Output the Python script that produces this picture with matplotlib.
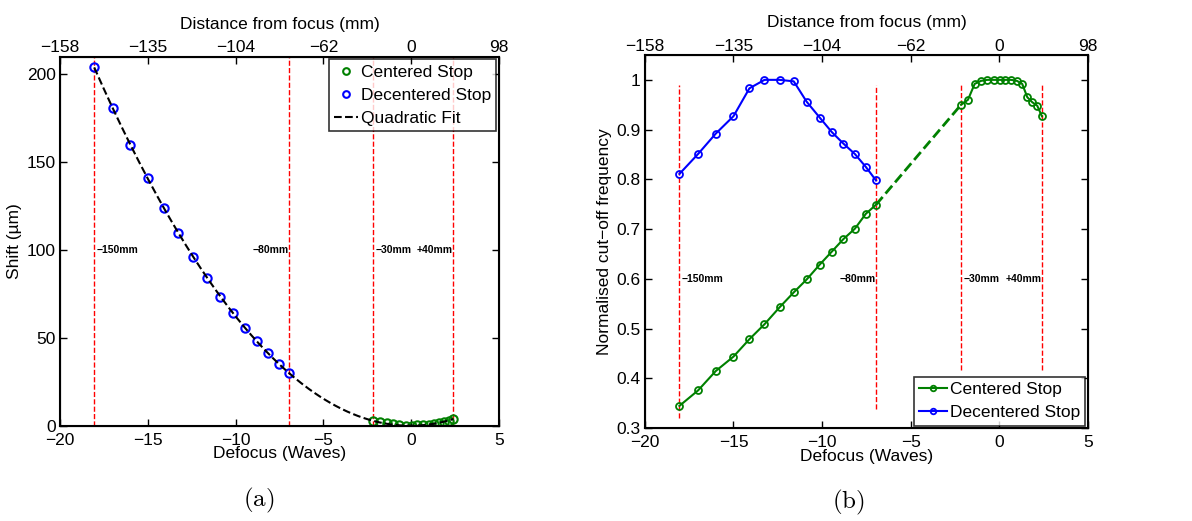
import numpy as np
import matplotlib.pyplot as plt

plt.rcParams['font.family'] = ['Liberation Sans', 'DejaVu Sans']
plt.rcParams['mathtext.fontset'] = 'cm'

# defocus (waves) of the measurement positions
dec_x = [-18.05, -17.0, -16.0, -15.0, -14.1, -13.25, -12.4, -11.6, -10.87,
         -10.13, -9.45, -8.8, -8.15, -7.53, -6.96]
cen_x = [-2.16, -1.77, -1.39, -1.03, -0.68, -0.32, 0.02, 0.34, 0.66,
         0.99, 1.29, 1.58, 1.86, 2.14, 2.4]

# (a) shift in um
dec_shift = [204, 181, 160, 141, 124, 109.5, 96, 84, 73.4, 64, 55.4, 48,
             41.2, 35.3, 29.8]
cen_shift = [2.6, 2.0, 1.3, 0.7, 0.3, 0.05, 0.0, 0.1, 0.3, 0.6, 1.0, 1.5,
             2.2, 2.9, 3.6]

# (b) normalised cut-off frequency
dec_freq = [0.811, 0.851, 0.892, 0.927, 0.983, 1.0, 1.0, 0.997, 0.956,
            0.924, 0.895, 0.872, 0.851, 0.825, 0.798]
cen_freq_far = [0.345, 0.376, 0.415, 0.444, 0.479, 0.509, 0.543, 0.573,
                0.599, 0.629, 0.655, 0.680, 0.701, 0.731, 0.749]
cen_freq_near = [0.950, 0.960, 0.992, 0.998, 1.0, 1.0, 1.0, 1.0, 1.0,
                 0.998, 0.992, 0.965, 0.955, 0.948, 0.927]

# reference distances
ref_x = [-18.05, -6.96, -2.16, 2.4]
ref_labels = ['\u2212150mm', '\u221280mm', '\u221230mm', '+40mm']
ref_ha = ['left', 'right', 'left', 'right']
ref_ymin_b = [0.32, 0.338, 0.417, 0.417]

xticks = [-20, -15, -10, -5, 0, 5]
top_labels = ['\u2212158', '\u2212135', '\u2212104', '\u221262', '0', '98']

green = (0, 0.5, 0)
fs = 12.5
small = dict(fontsize=7.5, fontweight='bold',
             family=['Liberation Sans Narrow', 'Liberation Sans'])

fig = plt.figure(figsize=(11.92, 5.21), dpi=100)
ax1 = fig.add_axes([0.0503, 0.183, 0.3683, 0.708])
ax2 = fig.add_axes([0.541, 0.178, 0.3717, 0.7165])


def style(ax, ylim, yticks):
    ax.set_xlim(-20, 5)
    ax.set_ylim(*ylim)
    ax.set_xticks(xticks)
    ax.set_yticks(yticks)
    ax.tick_params(direction='in', labelsize=fs, length=5, width=1,
                   right=True, pad=3)
    ax.tick_params(axis='x', pad=5)
    for s in ax.spines.values():
        s.set_linewidth(1.5)
    ax.set_xlabel('Defocus (Waves)', fontsize=fs, labelpad=-1)
    top = ax.twiny()
    top.set_xlim(-20, 5)
    top.set_xticks(xticks)
    top.set_xticklabels(top_labels)
    top.tick_params(direction='in', labelsize=fs, length=5, width=1, pad=1)
    top.set_xlabel('Distance from focus (mm)', fontsize=fs, labelpad=8)


def legend(ax, loc, hl):
    leg = ax.legend(loc=loc, fontsize=fs, frameon=True, fancybox=False,
                    edgecolor='k', handlelength=hl, handletextpad=0.15,
                    borderpad=0.3, labelspacing=0.45, borderaxespad=0.15,
                    markerscale=0.8)
    leg.get_frame().set_linewidth(1.2)


def ref_text(ax, y):
    for x, t, ha in zip(ref_x, ref_labels, ref_ha):
        ax.annotate(t, (x, y), xytext=(1.5 if ha == 'left' else -0.5, 0),
                    textcoords='offset points', ha=ha, va='center', **small)


# ---- (a)
style(ax1, (0, 210), [0, 50, 100, 150, 200])
ax1.set_yticklabels(['0', '50', '100', '150', '200'])
ax1.set_ylabel('Shift (\u00b5m)', fontsize=fs, labelpad=3)
for x in ref_x:
    ax1.axvline(x, color='r', ls='--', lw=1)
ref_text(ax1, 100)

all_x = np.array(dec_x + cen_x)
all_y = np.array(dec_shift + cen_shift)
coef = np.polyfit(all_x, all_y, 2)
xf = np.linspace(min(dec_x), max(cen_x), 200)
ax1.plot(cen_x, cen_shift, 'o', mfc='none', mec=green, mew=1.5, ms=6,
         label='Centered Stop')
ax1.plot(dec_x, dec_shift, 'o', mfc='none', mec='b', mew=1.5, ms=6,
         label='Decentered Stop')
ax1.plot(xf, np.polyval(coef, xf), 'k--', lw=1.5, label='Quadratic Fit')
legend(ax1, 'upper right', 1.4)

# ---- (b)
style(ax2, (0.3, 1.05), [0.3, 0.4, 0.5, 0.6, 0.7, 0.8, 0.9, 1.0])
ax2.set_yticklabels(['0.3', '0.4', '0.5', '0.6', '0.7', '0.8', '0.9', '1'])
ax2.set_ylabel('Normalised cut\u2212off frequency', fontsize=fs, labelpad=3)
for x, y0 in zip(ref_x, ref_ymin_b):
    ax2.plot([x, x], [y0, 0.99], color='r', ls='--', lw=1)
ref_text(ax2, 0.6)

# dashed bridge between the two centred-stop measurement sets
ax2.plot([dec_x[-1], cen_x[0]], [cen_freq_far[-1], cen_freq_near[0]], '--',
         color=green, lw=2)
ax2.plot(dec_x, cen_freq_far, '-o', color=green, mfc='none', mew=1.3, ms=5,
         lw=1.5, label='Centered Stop')
ax2.plot(cen_x, cen_freq_near, '-o', color=green, mfc='none', mew=1.3, ms=5,
         lw=1.5)
ax2.plot(dec_x, dec_freq, '-o', color='b', mfc='none', mew=1.3, ms=5, lw=1.5,
         label='Decentered Stop')
legend(ax2, 'lower right', 1.6)

fig.text(259 / 1192, 1 - 500 / 521, r'$\mathrm{(a)}$', ha='center',
         va='center', fontsize=18)
fig.text(848 / 1192, 1 - 502 / 521, r'$\mathrm{(b)}$', ha='center',
         va='center', fontsize=18)

fig.savefig('out.png', dpi=100)
